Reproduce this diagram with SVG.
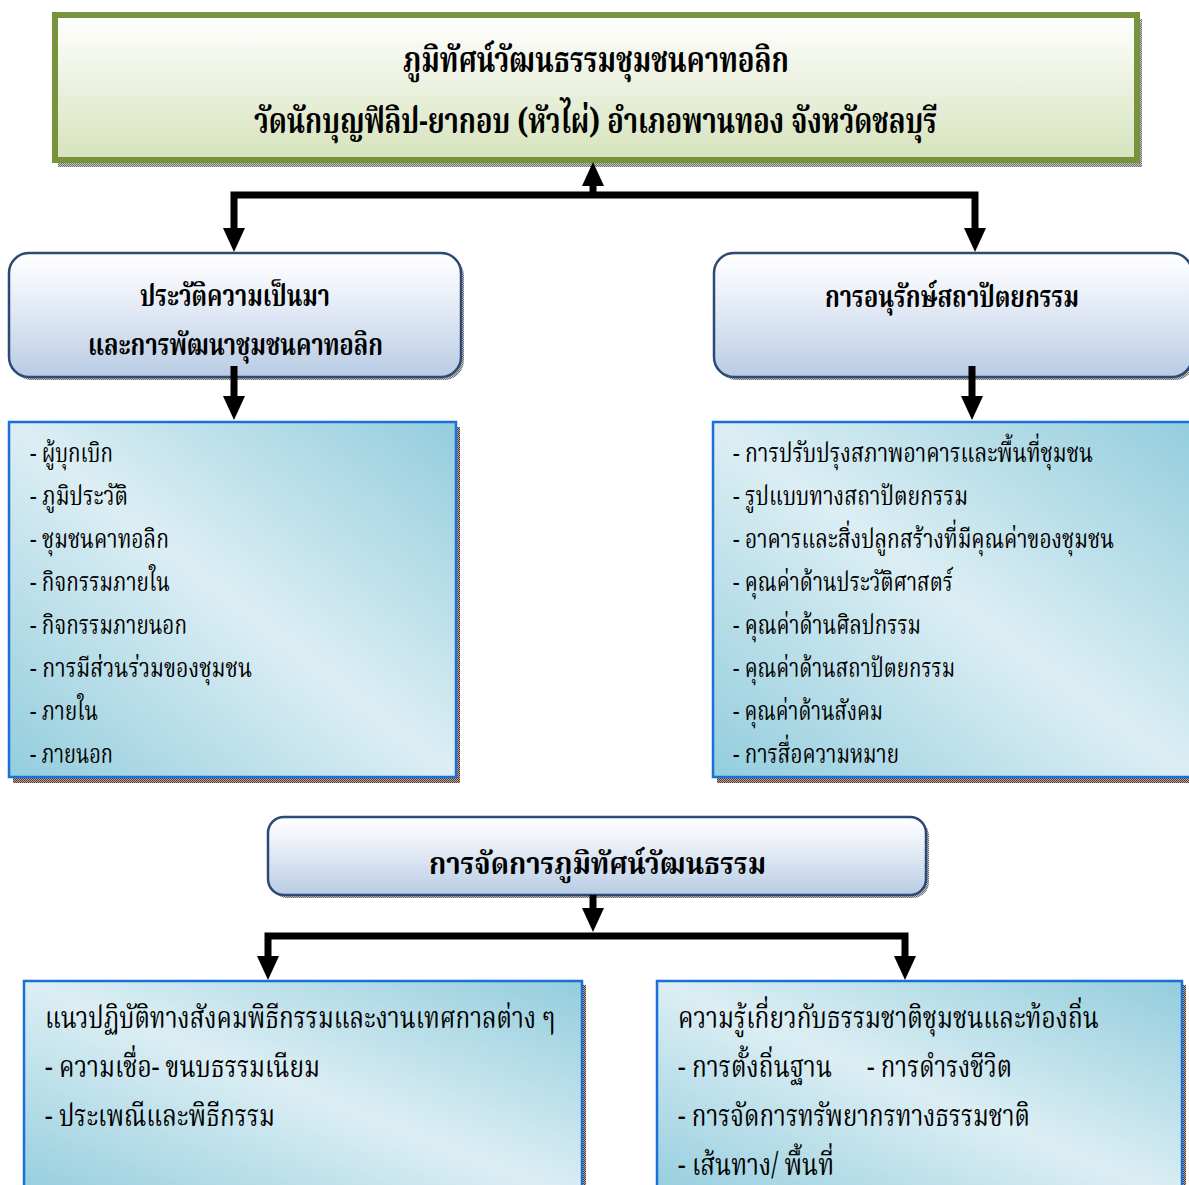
<svg xmlns="http://www.w3.org/2000/svg" width="1189" height="1185" viewBox="0 0 1189 1185">
<defs>
<style>
.t{font-family:'Angsana New','TH Sarabun New','Norasi','Noto Serif Thai','Noto Sans Thai','Noto Sans','DejaVu Sans',serif;fill:#000}
.b{font-weight:bold}
.h1{font-size:35px}
.h2{font-size:31px}
.li{font-size:27px}
.lb{font-size:30px}
.cn{fill:none;stroke:#000;stroke-width:7;stroke-linejoin:miter}
.head{fill:url(#gHead);stroke:#2C4A75;stroke-width:2.5}
.list{fill:url(#gList);stroke:#1A6FD8;stroke-width:2.5}
</style>
<linearGradient id="gTitle" x1="0" y1="0" x2="0" y2="1">
<stop offset="0" stop-color="#FFFFFF"/><stop offset="0.35" stop-color="#F1F5E8"/><stop offset="1" stop-color="#D6E3BC"/>
</linearGradient>
<linearGradient id="gHead" x1="0" y1="0" x2="0" y2="1">
<stop offset="0" stop-color="#FFFFFF"/><stop offset="0.3" stop-color="#EEF2F9"/><stop offset="1" stop-color="#B8CCE4"/>
</linearGradient>
<linearGradient id="gList" x1="0" y1="1" x2="1" y2="0">
<stop offset="0" stop-color="#93CDDD"/><stop offset="0.5" stop-color="#DCEEF4"/><stop offset="1" stop-color="#93CDDD"/>
</linearGradient>
<pattern id="dotG" width="2" height="2" patternUnits="userSpaceOnUse">
<rect width="2" height="2" fill="#C8C8C8"/><rect width="1" height="1" fill="#6E6E6E"/><rect x="1" y="1" width="1" height="1" fill="#6E6E6E"/>
</pattern>
<pattern id="dotB" width="2" height="2" patternUnits="userSpaceOnUse">
<rect width="2" height="2" fill="#B8A8A0"/><rect width="1" height="1" fill="#5A3A30"/><rect x="1" y="1" width="1" height="1" fill="#5A3A30"/>
</pattern>
<marker id="ah" viewBox="0 -12 24 24" refX="0" refY="0" markerWidth="24" markerHeight="24" markerUnits="userSpaceOnUse" orient="auto-start-reverse">
<path d="M0,-11 L24,0 L0,11 z" fill="#000"/>
</marker>
</defs>
<rect width="1189" height="1185" fill="#FFFFFF"/>

<g id="title">
<rect x="58" y="19" width="1084" height="148" fill="url(#dotG)"/>
<rect x="55" y="15" width="1082" height="145" fill="url(#gTitle)" stroke="#77933C" stroke-width="6"/>
<text class="t b h1" x="403" y="72" textLength="386" lengthAdjust="spacingAndGlyphs">ภูมิทัศน์วัฒนธรรมชุมชนคาทอลิก</text>
<text class="t b h1" x="254" y="133" textLength="683" lengthAdjust="spacingAndGlyphs">วัดนักบุญฟิลิป-ยากอบ (หัวไผ่) อำเภอพานทอง จังหวัดชลบุรี</text>
</g>

<g id="history">
<rect x="12" y="256" width="452" height="124" rx="20" fill="url(#dotG)"/>
<rect x="9" y="253" width="452" height="124" rx="20" class="head"/>
<text class="t b h2" x="140" y="306" textLength="190" lengthAdjust="spacingAndGlyphs">ประวัติความเป็นมา</text>
<text class="t b h2" x="88" y="355" textLength="295" lengthAdjust="spacingAndGlyphs">และการพัฒนาชุมชนคาทอลิก</text>
</g>

<g id="conservation">
<rect x="717" y="256" width="478" height="124" rx="20" fill="url(#dotG)"/>
<rect x="714" y="253" width="478" height="124" rx="20" class="head"/>
<text class="t b h2" x="825" y="307" textLength="254" lengthAdjust="spacingAndGlyphs">การอนุรักษ์สถาปัตยกรรม</text>
</g>

<g id="history-list">
<rect x="13" y="427" width="447" height="356" fill="url(#dotB)"/>
<rect x="9" y="422" width="447" height="355" class="list"/>
<text class="t li" x="30" y="462" textLength="83" lengthAdjust="spacingAndGlyphs">- ผู้บุกเบิก</text>
<text class="t li" x="30" y="505" textLength="98" lengthAdjust="spacingAndGlyphs">- ภูมิประวัติ</text>
<text class="t li" x="30" y="548" textLength="139" lengthAdjust="spacingAndGlyphs">- ชุมชนคาทอลิก</text>
<text class="t li" x="30" y="591" textLength="140" lengthAdjust="spacingAndGlyphs">- กิจกรรมภายใน</text>
<text class="t li" x="30" y="634" textLength="157" lengthAdjust="spacingAndGlyphs">- กิจกรรมภายนอก</text>
<text class="t li" x="30" y="677" textLength="222" lengthAdjust="spacingAndGlyphs">- การมีส่วนร่วมของชุมชน</text>
<text class="t li" x="30" y="720" textLength="68" lengthAdjust="spacingAndGlyphs">- ภายใน</text>
<text class="t li" x="30" y="763" textLength="83" lengthAdjust="spacingAndGlyphs">- ภายนอก</text>
</g>

<g id="conservation-list">
<rect x="717" y="427" width="480" height="356" fill="url(#dotB)"/>
<rect x="713" y="422" width="480" height="355" class="list"/>
<text class="t li" x="733" y="462" textLength="360" lengthAdjust="spacingAndGlyphs">- การปรับปรุงสภาพอาคารและพื้นที่ชุมชน</text>
<text class="t li" x="733" y="505" textLength="235" lengthAdjust="spacingAndGlyphs">- รูปแบบทางสถาปัตยกรรม</text>
<text class="t li" x="733" y="548" textLength="381" lengthAdjust="spacingAndGlyphs">- อาคารและสิ่งปลูกสร้างที่มีคุณค่าของชุมชน</text>
<text class="t li" x="733" y="591" textLength="220" lengthAdjust="spacingAndGlyphs">- คุณค่าด้านประวัติศาสตร์</text>
<text class="t li" x="733" y="634" textLength="188" lengthAdjust="spacingAndGlyphs">- คุณค่าด้านศิลปกรรม</text>
<text class="t li" x="733" y="677" textLength="222" lengthAdjust="spacingAndGlyphs">- คุณค่าด้านสถาปัตยกรรม</text>
<text class="t li" x="733" y="720" textLength="150" lengthAdjust="spacingAndGlyphs">- คุณค่าด้านสังคม</text>
<text class="t li" x="733" y="763" textLength="166" lengthAdjust="spacingAndGlyphs">- การสื่อความหมาย</text>
</g>

<g id="management">
<rect x="271" y="820" width="658" height="78" rx="16" fill="url(#dotG)"/>
<rect x="268" y="817" width="658" height="78" rx="16" class="head"/>
<text class="t b h2" x="429" y="874" textLength="337" lengthAdjust="spacingAndGlyphs">การจัดการภูมิทัศน์วัฒนธรรม</text>
</g>

<g id="practice">
<rect x="28" y="985" width="558" height="220" fill="url(#dotB)"/>
<rect x="24" y="981" width="558" height="220" class="list"/>
<text class="t lb" x="45" y="1028" textLength="510" lengthAdjust="spacingAndGlyphs">แนวปฏิบัติทางสังคมพิธีกรรมและงานเทศกาลต่าง ๆ</text>
<text class="t lb" x="45" y="1077" textLength="275" lengthAdjust="spacingAndGlyphs">- ความเชื่อ- ขนบธรรมเนียม</text>
<text class="t lb" x="45" y="1126" textLength="230" lengthAdjust="spacingAndGlyphs">- ประเพณีและพิธีกรรม</text>
</g>

<g id="knowledge">
<rect x="661" y="985" width="525" height="220" fill="url(#dotB)"/>
<rect x="657" y="981" width="525" height="220" class="list"/>
<text class="t lb" x="678" y="1028" textLength="421" lengthAdjust="spacingAndGlyphs">ความรู้เกี่ยวกับธรรมชาติชุมชนและท้องถิ่น</text>
<text class="t lb" y="1077"><tspan x="678" textLength="154" lengthAdjust="spacingAndGlyphs">- การตั้งถิ่นฐาน</tspan><tspan x="867" textLength="145" lengthAdjust="spacingAndGlyphs">- การดำรงชีวิต</tspan></text>
<text class="t lb" x="678" y="1126" textLength="352" lengthAdjust="spacingAndGlyphs">- การจัดการทรัพยากรทางธรรมชาติ</text>
<text class="t lb" x="678" y="1175" textLength="156" lengthAdjust="spacingAndGlyphs">- เส้นทาง/ พื้นที่</text>
</g>

<g id="connectors">
<path class="cn" d="M593,198 V186" marker-end="url(#ah)"/>
<path class="cn" d="M234,228 V195 H975 V228" marker-start="url(#ah)" marker-end="url(#ah)"/>
<path class="cn" d="M234,366 V396" marker-end="url(#ah)"/>
<path class="cn" d="M972,366 V396" marker-end="url(#ah)"/>
<path class="cn" d="M593,895 V908" marker-end="url(#ah)"/>
<path class="cn" d="M268,956 V936 H905 V956" marker-start="url(#ah)" marker-end="url(#ah)"/>
</g>
</svg>
